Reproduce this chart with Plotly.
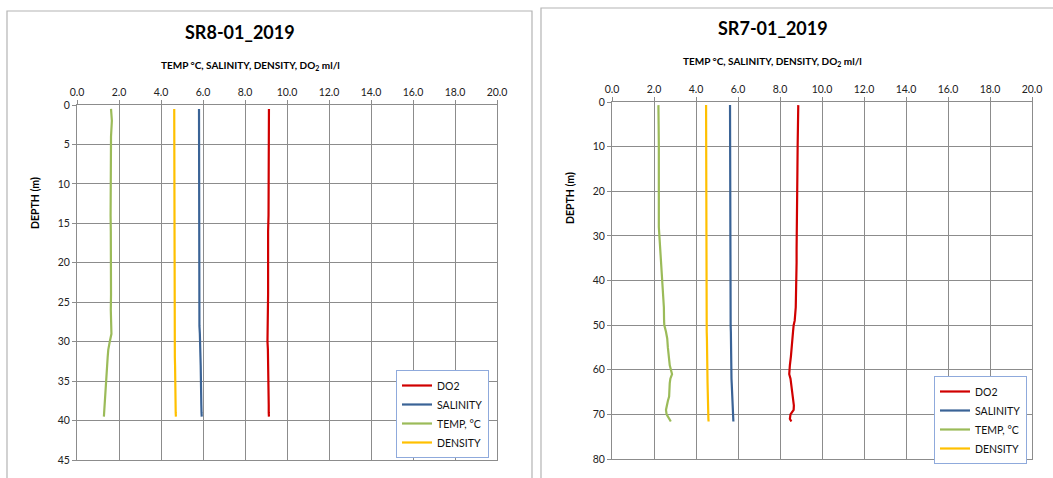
import plotly.graph_objects as go

W, H = 1053, 478

# ---------------- data: SR8-01_2019 ----------------
sr8_depth = [0.5, 1, 2, 4, 6, 8, 10, 12, 14, 16, 18, 20, 22, 24, 26, 28, 29, 30, 31, 32, 33, 34, 35, 36, 37, 38, 39, 39.5]
sr8_temp = [1.62, 1.63, 1.66, 1.62, 1.61, 1.60, 1.61, 1.61, 1.60, 1.61, 1.62, 1.63, 1.62, 1.62, 1.61, 1.61, 1.64, 1.56, 1.49, 1.46, 1.44, 1.42, 1.40, 1.38, 1.35, 1.33, 1.30, 1.28]
sr8_density = [4.63, 4.63, 4.63, 4.63, 4.63, 4.63, 4.63, 4.63, 4.63, 4.63, 4.63, 4.63, 4.63, 4.64, 4.64, 4.64, 4.65, 4.65, 4.66, 4.66, 4.67, 4.67, 4.68, 4.68, 4.69, 4.69, 4.70, 4.71]
sr8_salinity = [5.81, 5.81, 5.81, 5.81, 5.81, 5.81, 5.81, 5.81, 5.81, 5.81, 5.82, 5.82, 5.82, 5.82, 5.82, 5.83, 5.85, 5.87, 5.88, 5.88, 5.89, 5.89, 5.90, 5.90, 5.91, 5.92, 5.93, 5.94]
sr8_do2 = [9.14, 9.14, 9.13, 9.12, 9.13, 9.12, 9.12, 9.11, 9.12, 9.10, 9.11, 9.10, 9.10, 9.10, 9.09, 9.08, 9.05, 9.07, 9.09, 9.10, 9.10, 9.11, 9.11, 9.12, 9.12, 9.13, 9.13, 9.14]

# ---------------- data: SR7-01_2019 ----------------
sr7_depth = [0.7, 2, 5, 10, 15, 20, 25, 28, 30, 33, 36, 40, 43, 46, 49, 50, 51.5, 53, 55, 57, 59, 61, 62, 63, 65, 66, 67, 68, 69, 70, 71, 71.6]
sr7_temp = [2.21, 2.22, 2.22, 2.23, 2.22, 2.23, 2.23, 2.23, 2.26, 2.29, 2.33, 2.40, 2.45, 2.47, 2.48, 2.49, 2.57, 2.63, 2.66, 2.70, 2.75, 2.86, 2.78, 2.75, 2.73, 2.72, 2.66, 2.62, 2.57, 2.60, 2.72, 2.80]
sr7_density = [4.48, 4.48, 4.48, 4.48, 4.48, 4.48, 4.49, 4.49, 4.49, 4.49, 4.50, 4.50, 4.50, 4.50, 4.51, 4.51, 4.51, 4.52, 4.52, 4.53, 4.54, 4.54, 4.55, 4.55, 4.56, 4.56, 4.57, 4.57, 4.58, 4.59, 4.59, 4.60]
sr7_salinity = [5.62, 5.62, 5.62, 5.62, 5.63, 5.63, 5.63, 5.63, 5.63, 5.64, 5.64, 5.64, 5.65, 5.65, 5.65, 5.65, 5.66, 5.66, 5.66, 5.67, 5.67, 5.68, 5.69, 5.70, 5.72, 5.73, 5.74, 5.75, 5.76, 5.77, 5.78, 5.78]
sr7_do2 = [8.87, 8.87, 8.85, 8.84, 8.83, 8.81, 8.81, 8.80, 8.80, 8.79, 8.79, 8.78, 8.77, 8.75, 8.70, 8.65, 8.62, 8.60, 8.57, 8.52, 8.47, 8.44, 8.50, 8.53, 8.57, 8.60, 8.62, 8.66, 8.65, 8.50, 8.47, 8.54]

x_ticks = [0, 2, 4, 6, 8, 10, 12, 14, 16, 18, 20]
titles = ["SR8-01_2019", "SR7-01_2019"]
series_names = ["DO2", "SALINITY", "TEMP, °C", "DENSITY"]
colors = ["#D00000", "#3A6396", "#9BBB59", "#FFC000"]

FONT = "Lato"


def px(x):
    return x / W


def py(y):
    return 1 - y / H


fig = go.Figure()

panels = [
    dict(depth=sr8_depth, vals=[sr8_do2, sr8_salinity, sr8_temp, sr8_density],
         xa="x", ya="y", legend="legend"),
    dict(depth=sr7_depth, vals=[sr7_do2, sr7_salinity, sr7_temp, sr7_density],
         xa="x2", ya="y2", legend="legend2"),
]

for p in panels:
    for name, col, v in zip(series_names, colors, p["vals"]):
        fig.add_trace(go.Scatter(
            x=v, y=p["depth"], mode="lines", name=name,
            line=dict(color=col, width=2.2),
            xaxis=p["xa"], yaxis=p["ya"], legend=p["legend"],
        ))

grid_col = "#8C8C8C"
axis_common = dict(
    showgrid=True, gridcolor=grid_col, gridwidth=1,
    showline=True, linecolor=grid_col, linewidth=1, mirror=True,
    ticks="outside", ticklen=4, tickcolor=grid_col,
    zeroline=False, tickfont=dict(family=FONT, size=10.5, color="#222222"),
    fixedrange=True, automargin=False,
)

fig.update_layout(
    width=W, height=H,
    margin=dict(l=0, r=0, t=0, b=0, autoexpand=False),
    paper_bgcolor="white", plot_bgcolor="white",
    font=dict(family=FONT, color="#000000"),
    xaxis=dict(axis_common, domain=[px(77), px(497)], range=[0, 20], side="top",
               tickvals=x_ticks, tickformat=".1f", anchor="y"),
    yaxis=dict(axis_common, domain=[py(460), py(105)], range=[45, 0], dtick=5, anchor="x"),
    xaxis2=dict(axis_common, domain=[px(612), px(1032)], range=[0, 20], side="top",
                tickvals=x_ticks, tickformat=".1f", anchor="y2"),
    yaxis2=dict(axis_common, domain=[py(459), py(102)], range=[80, 0], dtick=10, anchor="x2"),
    legend=dict(x=px(396), y=py(370), xanchor="left", yanchor="top",
                bgcolor="white", bordercolor="#8FAADC", borderwidth=1,
                font=dict(family=FONT, size=10.5, color="#111111")),
    legend2=dict(x=px(934), y=py(376), xanchor="left", yanchor="top",
                 bgcolor="white", bordercolor="#8FAADC", borderwidth=1,
                 font=dict(family=FONT, size=10.5, color="#111111")),
    showlegend=True,
)

# panel borders
fig.add_shape(type="rect", xref="paper", yref="paper",
              x0=px(7), x1=px(532), y0=py(500), y1=py(11),
              line=dict(color="#B4B4B4", width=1.2), layer="below")
fig.add_shape(type="rect", xref="paper", yref="paper",
              x0=px(541), x1=px(1070), y0=py(500), y1=py(8),
              line=dict(color="#B4B4B4", width=1.2), layer="below")

ann = []
# titles
ann.append(dict(text="<b>" + titles[0] + "</b>", x=px(240), y=py(32)))
ann.append(dict(text="<b>" + titles[1] + "</b>", x=px(773), y=py(28)))
for a in ann:
    a.update(xref="paper", yref="paper", showarrow=False, xanchor="center", yanchor="middle",
             font=dict(family=FONT, size=18, color="#000000"))
axis_title = "<b>TEMP °C, SALINITY, DENSITY, DO<sub>2</sub> ml/l</b>"
ann.append(dict(text=axis_title, x=px(250), y=py(66), xref="paper", yref="paper",
                showarrow=False, xanchor="center", yanchor="middle",
                font=dict(family=FONT, size=10, color="#000000")))
ann.append(dict(text=axis_title, x=px(772), y=py(62), xref="paper", yref="paper",
                showarrow=False, xanchor="center", yanchor="middle",
                font=dict(family=FONT, size=10, color="#000000")))
ann.append(dict(text="<b>DEPTH (m)</b>", x=px(35), y=py(203), xref="paper", yref="paper",
                showarrow=False, xanchor="center", yanchor="middle", textangle=-90,
                font=dict(family=FONT, size=10.5, color="#000000")))
ann.append(dict(text="<b>DEPTH (m)</b>", x=px(570), y=py(198), xref="paper", yref="paper",
                showarrow=False, xanchor="center", yanchor="middle", textangle=-90,
                font=dict(family=FONT, size=10.5, color="#000000")))
fig.update_layout(annotations=ann)

fig.write_html("out.html")
